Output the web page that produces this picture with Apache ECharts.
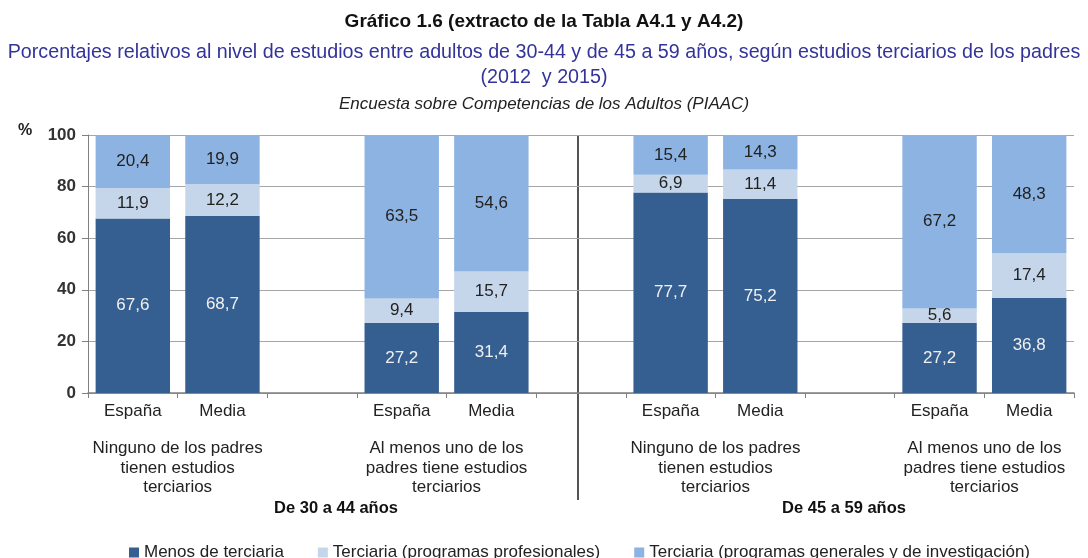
<!DOCTYPE html>
<html><head><meta charset="utf-8">
<script src="https://cdn.jsdelivr.net/npm/echarts@6/dist/echarts.min.js"></script>
<style>html,body{margin:0;padding:0;background:#fff}#c{width:1088px;height:558px}</style>
</head><body><div id="c"></div>
<script>
const categories = ['España','Media','','España','Media','','España','Media','','España','Media'];
const menosTerciaria = [67.6, 68.7, null, 27.2, 31.4, null, 77.7, 75.2, null, 27.2, 36.8];
const terciariaProf = [11.9, 12.2, null, 9.4, 15.7, null, 6.9, 11.4, null, 5.6, 17.4];
const terciariaGen = [20.4, 19.9, null, 63.5, 54.6, null, 15.4, 14.3, null, 67.2, 48.3];
const seriesNames = ['Menos de terciaria', 'Terciaria (programas profesionales)', 'Terciaria (programas generales y de investigación)'];
const groupLabels = {1: 'Ninguno de los padres\ntienen estudios\nterciarios', 4: 'Al menos uno de los\npadres tiene estudios\nterciarios', 7: 'Ninguno de los padres\ntienen estudios\nterciarios', 10: 'Al menos uno de los\npadres tiene estudios\nterciarios'};
const periodLabels = ['De 30 a 44 años', 'De 45 a 59 años'];
const yTicks = [0, 20, 40, 60, 80, 100];
const titleText = 'Gráfico 1.6 (extracto de la Tabla A4.1 y A4.2)';
const subtitleLines = ['Porcentajes relativos al nivel de estudios entre adultos de 30-44 y de 45 a 59 años, según estudios terciarios de los padres', '(2012  y 2015)'];
const sourceText = 'Encuesta sobre Competencias de los Adultos (PIAAC)';

const sans = "'Liberation Sans', Arial, sans-serif";
const colors = ['#365f91', '#c6d6ea', '#8db3e2'];

const chart = echarts.init(document.getElementById('c'), null, {renderer: 'canvas'});
const fmt = p => (p.value == null ? '' : p.value.toFixed(1).replace('.', ','));
function barSeries(name, data, idx, labelColor) {
  return {
    name, type: 'bar', stack: 'a', data, barCategoryGap: '17%',
    itemStyle: {color: colors[idx]},
    label: {show: true, position: 'inside', color: labelColor, fontFamily: sans, fontSize: 17, formatter: fmt},
    emphasis: {disabled: true}
  };
}
chart.setOption({
  animation: false,
  title: [
    {text: titleText, left: 'center', top: 7, textStyle: {fontFamily: sans, fontSize: 19, fontWeight: 'bold', color: '#111'}},
    {text: subtitleLines[0], left: 'center', top: 38, textStyle: {fontFamily: sans, fontSize: 19.7, fontWeight: 'normal', color: '#33339a'}},
    {text: subtitleLines[1], left: 'center', top: 63, textStyle: {fontFamily: sans, fontSize: 19.7, fontWeight: 'normal', color: '#33339a'}},
    {text: sourceText, left: 'center', top: 91, textStyle: {fontFamily: sans, fontSize: 17, fontStyle: 'italic', fontWeight: 'normal', color: '#222'}}
  ],
  legend: {
    top: 539, left: 124, itemWidth: 10, itemHeight: 10, itemGap: 34, icon: 'rect',
    textStyle: {fontFamily: sans, fontSize: 17, color: '#222'},
    data: seriesNames
  },
  grid: {left: 88, right: 14, top: 135, bottom: 165},
  xAxis: [
    {type: 'category', data: categories, position: 'bottom',
     axisLine: {lineStyle: {color: '#808080', width: 1.5}},
     axisTick: {show: true, interval: 0, alignWithLabel: false, length: 5, lineStyle: {color: '#808080'}},
     axisLabel: {interval: 0, margin: 10, fontFamily: sans, fontSize: 17, color: '#222'}},
    {type: 'value', min: 0, max: 11, interval: 1, position: 'bottom', offset: 46,
     axisLine: {show: false}, axisTick: {show: false}, splitLine: {show: false},
     axisLabel: {showMinLabel: true, showMaxLabel: true, margin: 0, fontFamily: sans, fontSize: 17, color: '#222', lineHeight: 19.5, verticalAlign: 'top',
                 formatter: v => groupLabels[v] || ''}}
  ],
  yAxis: {
    type: 'value', min: 0, max: 100, interval: 20,
    axisLine: {show: true, lineStyle: {color: '#808080'}},
    axisTick: {show: true, length: 6, lineStyle: {color: '#808080'}},
    splitLine: {lineStyle: {color: '#a6a6a6', width: 1}},
    axisLabel: {fontFamily: sans, fontSize: 17, fontWeight: 'bold', color: '#333', margin: 12,
                formatter: v => yTicks.includes(v) ? String(v) : ''}
  },
  graphic: [
    {type: 'text', left: 18, top: 123, style: {text: '%', font: 'bold 16px ' + sans, fill: '#222'}},
    {type: 'line', shape: {x1: 578, y1: 135, x2: 578, y2: 500}, style: {stroke: '#555', lineWidth: 2}},
    {type: 'text', x: 336, y: 508, style: {text: periodLabels[0], font: 'bold 16.5px ' + sans, fill: '#111', align: 'center', verticalAlign: 'middle'}},
    {type: 'text', x: 844, y: 508, style: {text: periodLabels[1], font: 'bold 16.5px ' + sans, fill: '#111', align: 'center', verticalAlign: 'middle'}}
  ],
  series: [
    barSeries(seriesNames[0], menosTerciaria, 0, '#f0f0f0'),
    barSeries(seriesNames[1], terciariaProf, 1, '#222'),
    barSeries(seriesNames[2], terciariaGen, 2, '#222')
  ]
});
</script></body></html>
